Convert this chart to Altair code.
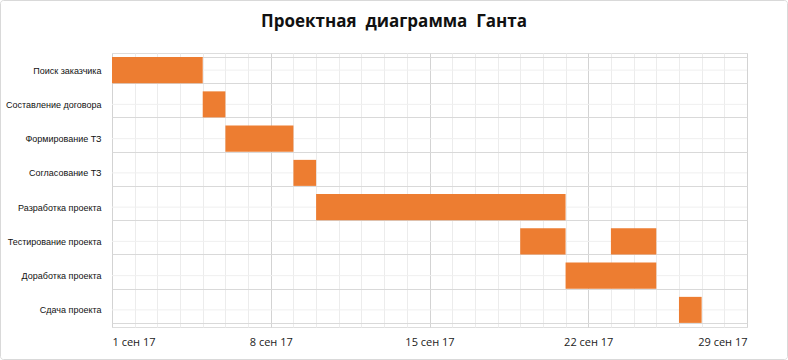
import altair as alt
import pandas as pd

# ---- data ----
tasks = [
    "Поиск заказчика",
    "Составление договора",
    "Формирование ТЗ",
    "Согласование ТЗ",
    "Разработка проекта",
    "Тестирование проекта",
    "Доработка проекта",
    "Сдача проекта",
]
bar_tasks = [
    "Поиск заказчика",
    "Составление договора",
    "Формирование ТЗ",
    "Согласование ТЗ",
    "Разработка проекта",
    "Тестирование проекта",
    "Тестирование проекта",
    "Доработка проекта",
    "Сдача проекта",
]
bar_starts = ["2017-09-01", "2017-09-05", "2017-09-06", "2017-09-09", "2017-09-10",
              "2017-09-19", "2017-09-23", "2017-09-21", "2017-09-26"]
bar_ends = ["2017-09-05", "2017-09-06", "2017-09-09", "2017-09-10", "2017-09-21",
            "2017-09-21", "2017-09-25", "2017-09-25", "2017-09-27"]
tick_days = [1, 8, 15, 22, 29]
tick_labels = ["1 сен 17", "8 сен 17", "15 сен 17", "22 сен 17", "29 сен 17"]
title_text = "Проектная  диаграмма  Ганта"

# ---- tables ----
bars = pd.DataFrame({
    "task": bar_tasks,
    "start": [s + "T00:00:00" for s in bar_starts],
    "end": [e + "T00:00:00" for e in bar_ends],
})
rows = pd.DataFrame({"task": tasks})
frame = pd.DataFrame({"k": [0]})
# keep the double spaces visible in SVG (whitespace would collapse otherwise)
titles = pd.DataFrame({"t": [title_text.replace("  ", " \u00a0")]})

label_arr = [""] * 32
for d, l in zip(tick_days, tick_labels):
    label_arr[d] = l
label_expr = "[" + ",".join("'" + s + "'" for s in label_arr) + "][date(datum.value)]"

W, H = 635, 274
PADL, PADT = 112, 53

x_scale = alt.Scale(domain=[alt.DateTime(year=2017, month=9, date=1),
                            alt.DateTime(year=2017, month=9, date=29)], nice=False)
y_scale = alt.Scale(domain=tasks, paddingInner=0.24, paddingOuter=0.12)

x_axis = alt.Axis(
    title=None,
    values=[alt.DateTime(year=2017, month=9, date=d) for d in range(1, 30)],
    labelExpr=label_expr,
    labelOverlap=False,
    labelFont="Open Sans",
    labelFontSize=11,
    labelColor="#222222",
    labelPadding=9,
    ticks=False,
    domain=False,
    grid=True,
    gridColor={"condition": {"test": "(date(datum.value)-1)%7==0", "value": "#d3d3d3"},
               "value": "#ececec"},
    gridWidth=1,
)
y_axis = alt.Axis(
    title=None,
    labelFont="Liberation Sans",
    labelFontSize=9,
    labelColor="#111111",
    labelPadding=11,
    labelLimit=110,
    ticks=False,
    domain=False,
    grid=True,
    tickBand="extent",
    gridColor="#d9d9d9",
)

center_lines = alt.Chart(rows).mark_rule(color="#efefef", strokeWidth=1).encode(
    y=alt.Y("task:N", scale=y_scale, axis=y_axis, sort=tasks),
    x=alt.value(0),
    x2=alt.value(W),
)

bar_layer = alt.Chart(bars).mark_bar(color="#ED7D31", cornerRadius=0).encode(
    x=alt.X("start:T", scale=x_scale, axis=x_axis),
    x2="end:T",
    y=alt.Y("task:N", scale=y_scale, axis=y_axis, sort=tasks),
)

border = alt.Chart(frame).mark_rect(
    fill=None, fillOpacity=0, stroke="#d9d9d9", strokeWidth=1, cornerRadius=3, clip=False
).encode(
    x=alt.value(-PADL + 0.5), x2=alt.value(788 - PADL - 0.5),
    y=alt.value(-PADT + 0.5), y2=alt.value(360 - PADT - 0.5),
)

title_mark = alt.Chart(titles).mark_text(
    font="Open Sans", fontSize=17, fontWeight="bold", color="#111111",
    align="center", baseline="middle", clip=False,
).encode(
    text="t:N",
    x=alt.value(394 - PADL),
    y=alt.value(22 - PADT),
)

chart = alt.layer(center_lines, bar_layer, border, title_mark).properties(
    width=W,
    height=H,
    padding={"left": PADL, "top": PADT, "right": 788 - PADL - W, "bottom": 360 - PADT - H},
    autosize=alt.AutoSizeParams(type="none"),
).configure_view(stroke="#d9d9d9", strokeWidth=1).configure(background="white")

chart.save("out.html", embed_options={"renderer": "svg", "actions": False})
